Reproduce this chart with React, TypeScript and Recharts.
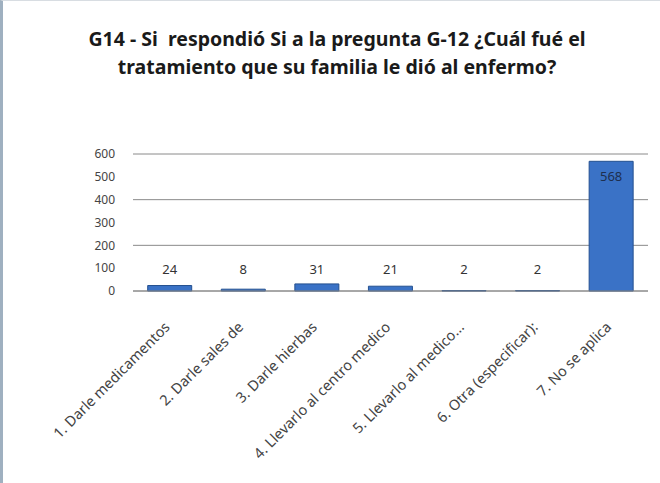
import { Bar, BarChart, CartesianGrid, LabelList, XAxis, YAxis } from 'recharts';

const categories = [
  '1. Darle medicamentos',
  '2. Darle sales de',
  '3. Darle hierbas',
  '4. Llevarlo al centro medico',
  '5. Llevarlo al medico...',
  '6. Otra (especificar):',
  '7. No se aplica',
];
const counts = [24, 8, 31, 21, 2, 2, 568];
const yTicks = [0, 100, 200, 300, 400, 500, 600];

const data = categories.map((name, i) => ({ name, value: counts[i] }));

const FONT = '"Noto Sans", "Open Sans", sans-serif';

const CategoryTick = (props: any) => {
  const { x, y, payload } = props;
  return (
    <g transform={`translate(${x + 1},${y + 29})`}>
      <text
        textAnchor="end"
        transform="rotate(-45)"
        fontSize={14.5}
        fill="#444"
        fontFamily={FONT}
      >
        {payload.value}
      </text>
    </g>
  );
};

const ValueLabel = (props: any) => {
  const { x, y, width, value } = props;
  const inside = value > 300;
  return (
    <text
      x={x + width / 2}
      y={inside ? y + 20 : 273}
      textAnchor="middle"
      fontSize={13}
      fill={inside ? '#1d2f4f' : '#333'}
      fontFamily={FONT}
    >
      {value}
    </text>
  );
};

export default function App() {
  return (
    <div
      style={{
        position: 'absolute',
        left: 0,
        top: 0,
        width: 660,
        height: 483,
        background: '#fff',
        borderLeft: '3px solid #9fb0c0',
        borderTop: '1px solid #d8dde2',
        boxSizing: 'border-box',
      }}
    >
      <div
        style={{
          position: 'absolute',
          left: 0,
          top: 24,
          width: 668,
          textAlign: 'center',
          fontFamily: FONT,
          fontWeight: 'bold',
          fontSize: 19.5,
          lineHeight: '28px',
          color: '#1a1a1a',
        }}
      >
        G14 - Si&nbsp; respondió Si a la pregunta G-12 ¿Cuál fué el
        <br />
        tratamiento que su familia le dió al enfermo?
      </div>
      <BarChart
        width={657}
        height={482}
        data={data}
        margin={{ top: 153, right: 12, left: 90, bottom: 0 }}
        barCategoryGap="20%"
      >
        <CartesianGrid vertical={false} stroke="#8a8a8a" />
        <XAxis
          dataKey="name"
          interval={0}
          height={192}
          tick={<CategoryTick />}
          tickLine={false}
          axisLine={{ stroke: '#8a8a8a' }}
        />
        <YAxis
          domain={[0, 600]}
          ticks={yTicks}
          width={40}
          tickLine={false}
          axisLine={false}
          tick={{ fontSize: 12, fill: '#444', fontFamily: FONT }}
          tickMargin={12}
        />
        <Bar
          dataKey="value"
          fill="#3a72c6"
          stroke="#24508f"
          isAnimationActive={false}
        >
          <LabelList dataKey="value" content={<ValueLabel />} />
        </Bar>
      </BarChart>
    </div>
  );
}
